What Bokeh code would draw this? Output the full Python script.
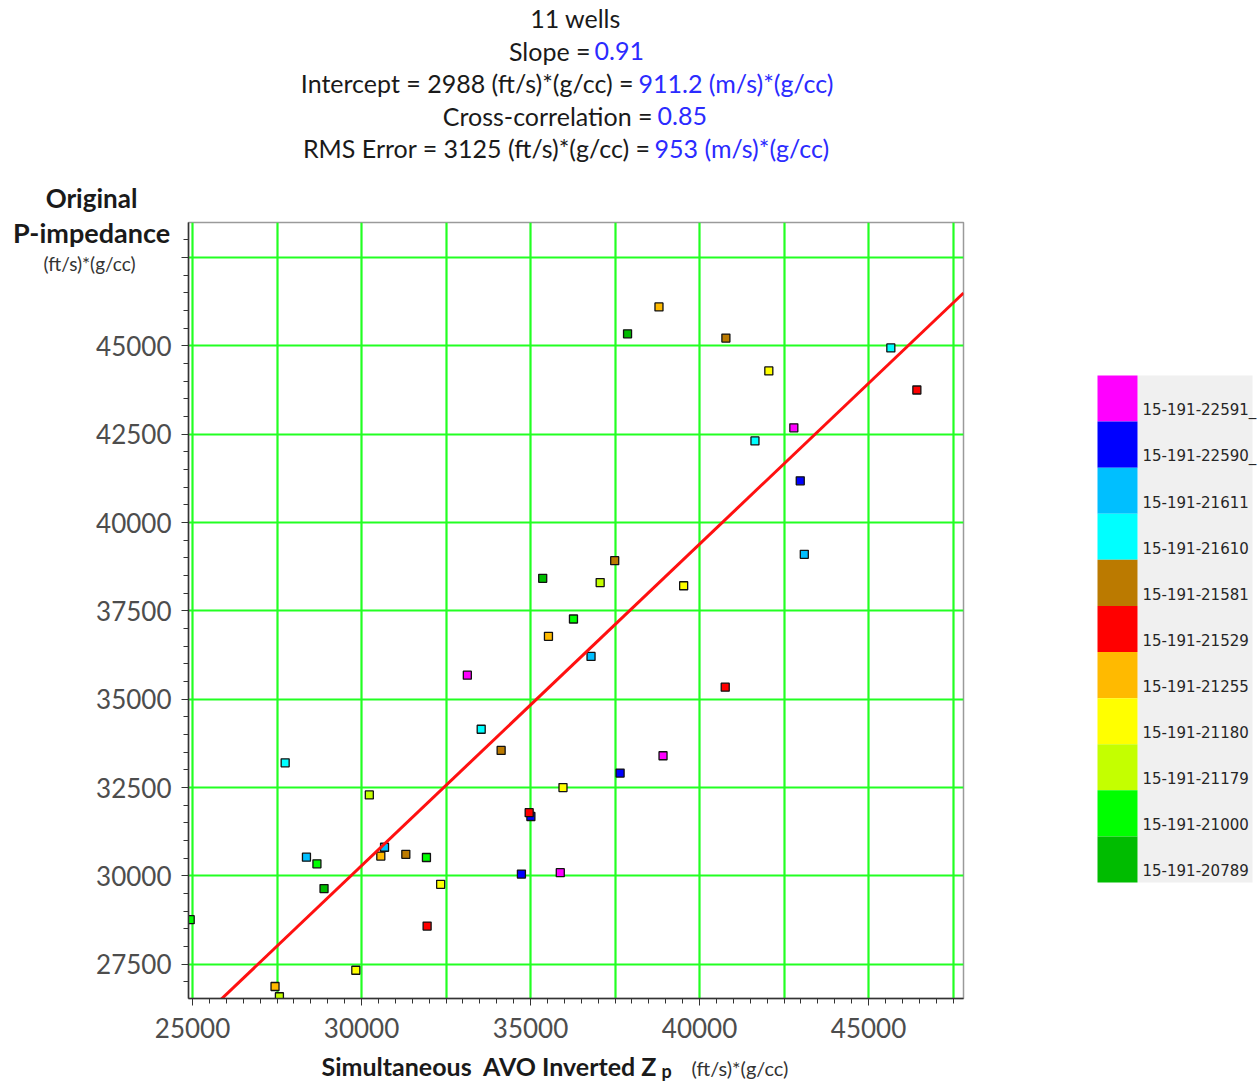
from bokeh.plotting import figure
from bokeh.models import Range1d, SingleIntervalTicker, Label
from bokeh.layouts import row, column
from bokeh.embed import file_html
from bokeh.resources import INLINE
from bokeh.core.properties import value

# Wells (legend order, top to bottom) and their colours
wells = ["15-191-22591_", "15-191-22590_", "15-191-21611", "15-191-21610",
         "15-191-21581", "15-191-21529", "15-191-21255", "15-191-21180",
         "15-191-21179", "15-191-21000", "15-191-20789"]
well_colors = ["#FF00FF", "#0000FF", "#00BFFF", "#00FFFF", "#BB7A00", "#FF0000",
               "#FFBA00", "#FFFF00", "#C4FF00", "#00FF00", "#00BC00"]

# Inverted Zp (x) and original P-impedance (y) per well, (ft/s)*(g/cc)
zp_inv = {
    "15-191-22591_": [42790, 33130, 35880, 38920],
    "15-191-22590_": [42980, 35010, 34730, 37650],
    "15-191-21611": [43100, 30680, 28370, 36790],
    "15-191-21610": [45660, 41640, 33540, 27740],
    "15-191-21581": [40780, 37490, 34130, 31310],
    "15-191-21529": [46430, 34960, 31940, 40760],
    "15-191-21255": [38800, 35530, 30570, 27440],
    "15-191-21180": [42050, 39530, 35960, 32340, 29830],
    "15-191-21179": [37060, 30230, 27570],
    "15-191-21000": [36270, 31920, 28680, 24930],
    "15-191-20789": [37870, 28890, 35360],
}
zp_orig = {
    "15-191-22591_": [42680, 35680, 30090, 33400],
    "15-191-22590_": [41180, 31680, 30050, 32910],
    "15-191-21611": [39100, 30810, 30530, 36210],
    "15-191-21610": [44940, 42310, 34150, 33200],
    "15-191-21581": [45220, 38920, 33550, 30610],
    "15-191-21529": [43750, 31790, 28580, 35340],
    "15-191-21255": [46100, 36780, 30560, 26870],
    "15-191-21180": [44290, 38210, 32500, 29760, 27330],
    "15-191-21179": [38300, 32290, 26580],
    "15-191-21000": [37270, 30520, 30340, 28760],
    "15-191-20789": [45340, 29640, 38420],
}

# Regression summary
n_wells = 11
slope = 0.91
intercept = 2988
intercept_si = 911.2
xcorr = 0.85
rms_err = 3125
rms_err_si = 953

x_lo, x_hi = 24880, 47810
y_lo, y_hi = 26530, 48490

# page geometry (canvas pixels)
PAGE_W, PAGE_H = 1260, 1081
FL, FR, FT, FB = 188, 963, 222, 998      # plot frame
HDR_H = 180                               # header strip
FTR_TOP = 1049                            # footer strip starts here
W_MAIN = 1090
MID_H = FTR_TOP - HDR_H

BLUE = "#2B2BFF"
INK = "#1a1a1a"
TFONT = "Lato"


def text_strip(height, y_top):
    f = figure(width=PAGE_W, height=height, x_range=Range1d(0, PAGE_W),
               y_range=Range1d(y_top + height, y_top), output_backend="svg",
               toolbar_location=None, min_border=0)
    f.axis.visible = False
    f.grid.visible = False
    f.outline_line_color = None
    f.background_fill_color = "white"
    f.border_fill_color = "white"
    return f


# ---- header: fit statistics
hdr = text_strip(HDR_H, 0)
tkw = dict(text_font=value(TFONT), text_font_size="25px", text_baseline="middle")
hdr.text(x=[575], y=[17], text=[f"{n_wells} wells"], text_align="center", text_color=INK, **tkw)
hdr.text(x=[590, 633, 652, 650], y=[50, 82, 115, 147],
         text=["Slope =", f"Intercept = {intercept} (ft/s)*(g/cc) =",
               "Cross-correlation =", f"RMS Error = {rms_err} (ft/s)*(g/cc) ="],
         text_align="right", text_color=INK, **tkw)
hdr.text(x=[594, 638, 657, 654], y=[50, 82, 115, 147],
         text=[f"{slope:.2f}", f"{intercept_si} (m/s)*(g/cc)", f"{xcorr:.2f}",
               f"{rms_err_si} (m/s)*(g/cc)"],
         text_align="left", text_color=BLUE, **tkw)

# ---- main scatter plot
p = figure(width=W_MAIN, height=MID_H, x_range=Range1d(x_lo, x_hi), y_range=Range1d(y_lo, y_hi),
           output_backend="svg", toolbar_location=None,
           min_border_left=FL, min_border_right=W_MAIN - FR,
           min_border_top=FT - HDR_H, min_border_bottom=FTR_TOP - FB)
p.background_fill_color = "white"
p.border_fill_color = "white"
p.outline_line_color = "#9a9a9a"
p.outline_line_width = 1.5

p.xaxis.ticker = SingleIntervalTicker(interval=5000, num_minor_ticks=10)
p.yaxis.ticker = SingleIntervalTicker(interval=2500, num_minor_ticks=5)
p.yaxis.major_label_overrides = {47500: ""}
p.xgrid.ticker = SingleIntervalTicker(interval=2500)
p.ygrid.ticker = SingleIntervalTicker(interval=2500)
for g in (p.xgrid, p.ygrid):
    g.grid_line_color = "#22FF22"
    g.grid_line_width = 2.2
    g.grid_line_alpha = 1.0

for ax in (p.xaxis, p.yaxis):
    ax.axis_line_color = "#333333"
    ax.axis_line_width = 1.5
    ax.major_tick_line_color = "#333333"
    ax.minor_tick_line_color = "#333333"
    ax.major_tick_in = 0
    ax.major_tick_out = 7
    ax.minor_tick_in = 0
    ax.minor_tick_out = 5
    ax.major_label_text_font = "Lato"
    ax.major_label_text_font_size = "26px"
    ax.major_label_text_color = "#4d4d4d"
p.xaxis.major_label_standoff = 12
p.yaxis.major_label_standoff = 10
p.yaxis.major_label_orientation = "horizontal"

for w, c in zip(wells, well_colors):
    p.scatter(zp_inv[w], zp_orig[w], marker="square", size=8,
              fill_color=c, line_color="#111111", line_width=1.3)

# least-squares line from the stated slope and intercept
lx = [x_lo, x_hi]
ly = [slope * v + intercept for v in lx]
p.line(lx, ly, line_color="#FF1010", line_width=3)

# y axis title, one label per side panel (positions relative to the frame)
p.add_layout(Label(x=91 - FL, y=FT - 232, x_units="screen", y_units="screen",
                   text="P-impedance", text_font=TFONT, text_font_size="27px",
                   text_font_style="bold", text_color=INK, text_align="center",
                   text_baseline="middle"), "above")
p.add_layout(Label(x=91 - FR, y=FB - 197, x_units="screen", y_units="screen",
                   text="Original", text_font=TFONT, text_font_size="26px",
                   text_font_style="bold", text_color=INK, text_align="center",
                   text_baseline="middle"), "right")
p.add_layout(Label(x=88, y=FB - 263, x_units="screen", y_units="screen",
                   text="(ft/s)*(g/cc)", text_font=TFONT, text_font_size="19px",
                   text_color="#333333", text_align="center",
                   text_baseline="middle"), "left")

# ---- colour key for the wells (pixel coordinates, frame aligned with the main plot)
leg = figure(width=PAGE_W - W_MAIN, height=MID_H, x_range=Range1d(W_MAIN, PAGE_W),
             y_range=Range1d(FB, FT), output_backend="svg", toolbar_location=None,
             min_border=0, min_border_top=FT - HDR_H, min_border_bottom=FTR_TOP - FB)
leg.axis.visible = False
leg.grid.visible = False
leg.outline_line_color = None
leg.background_fill_color = "white"
leg.border_fill_color = "white"

top, bot = 375, 882
step = (bot - top) / len(wells)
tops = [top + i * step for i in range(len(wells))]
bots = [t + step for t in tops]
leg.quad(left=1137, right=1252, top=top, bottom=bot, fill_color="#F0F0F0", line_color=None)
leg.quad(left=1097, right=1137, top=tops, bottom=bots, fill_color=well_colors, line_color=None)
leg.text(x=[1142] * len(wells), y=[t + step / 2 + 11 for t in tops], text=wells,
         text_font=value("DejaVu Sans"), text_font_size="15px", text_color="#262626",
         text_baseline="middle", text_align="left")

# ---- footer: x axis title
ftr = text_strip(PAGE_H - FTR_TOP, FTR_TOP)
ftr.text(x=[321], y=[1065], text=["Simultaneous\u00a0 AVO Inverted Z"], text_font=value(TFONT),
         text_font_size="25px", text_font_style="bold", text_color=INK,
         text_baseline="middle", text_align="left")
ftr.text(x=[661], y=[1070], text=["p"], text_font=value(TFONT), text_font_size="18px",
         text_font_style="bold", text_color=INK, text_baseline="middle", text_align="left")
ftr.text(x=[691], y=[1067], text=["(ft/s)*(g/cc)"], text_font=value(TFONT),
         text_font_size="20px", text_color="#333333", text_baseline="middle", text_align="left")

layout = column(hdr, row(p, leg), ftr)
open("out.html", "w").write(file_html(layout, INLINE))
